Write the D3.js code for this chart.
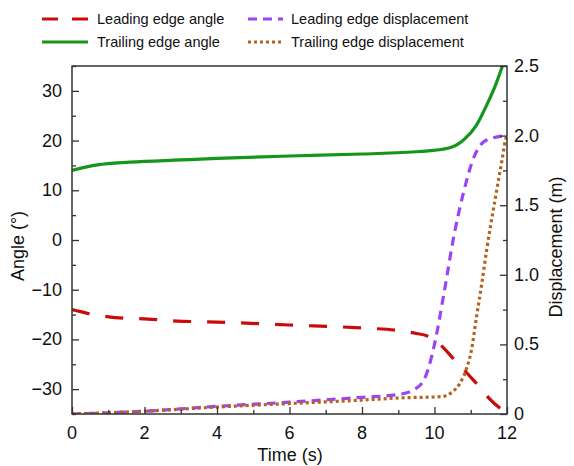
<!DOCTYPE html>
<html>
<head>
<meta charset="utf-8">
<script src="https://cdn.jsdelivr.net/npm/d3@7"></script>
<style>
  body { margin: 0; background: #fff; }
  svg text { font-family: "Liberation Sans", Arial, sans-serif; fill: #111; }
</style>
</head>
<body>
<svg id="chart" width="574" height="466"></svg>
<script>
// values
var leadAngleT = [0, 0.4, 1.2, 2.1, 2.9, 4, 6, 8, 9, 9.5, 9.8, 10.25, 10.5, 10.9, 11.2, 11.5, 11.8, 12];
var leadAngle  = [-14, -14.7, -15.6, -15.9, -16.3, -16.5, -17.1, -17.7, -18.2, -18.8, -19.3, -21.7, -23.7, -26.8, -29.2, -31.8, -33.8, -34.8];

var trailAngleT = [0, 0.7, 1.6, 3, 4, 6, 8, 9.6, 10.4, 10.8, 11.15, 11.45, 11.67, 11.87, 12];
var trailAngle  = [14, 15.1, 15.65, 16.1, 16.4, 16.9, 17.3, 17.8, 18.5, 20.1, 23.0, 27.3, 30.9, 34.9, 37.6];

var leadDispT = [0, 2, 4, 6, 8, 9, 9.4, 9.7, 10, 10.25, 10.55, 10.8, 11.05, 11.45, 12];
var leadDisp  = [0, 0.02, 0.055, 0.085, 0.12, 0.14, 0.17, 0.24, 0.5, 0.85, 1.3, 1.59, 1.82, 1.97, 2.0];

var trailDispT = [0, 2, 4, 6, 8, 9, 10.2, 10.5, 10.7, 10.9, 11.02, 11.16, 11.3, 11.44, 11.67, 11.86, 11.96, 12];
var trailDisp  = [0, 0.02, 0.05, 0.075, 0.1, 0.115, 0.125, 0.16, 0.22, 0.34, 0.46, 0.7, 0.93, 1.18, 1.54, 1.82, 1.97, 2.0];

var xTicks = [0, 2, 4, 6, 8, 10, 12];
var angleTicks = [-30, -20, -10, 0, 10, 20, 30];
var dispTicks = [0, 0.5, 1.0, 1.5, 2.0, 2.5];

var series = [
  {name: "Leading edge angle", t: leadAngleT, v: leadAngle, axis: "angle", color: "#cc0a0a", dash: "18,16"},
  {name: "Trailing edge angle", t: trailAngleT, v: trailAngle, axis: "angle", color: "#14961a", dash: null},
  {name: "Leading edge displacement", t: leadDispT, v: leadDisp, axis: "disp", color: "#9b45f5", dash: "9,6"},
  {name: "Trailing edge displacement", t: trailDispT, v: trailDisp, axis: "disp", color: "#b5621f", dash: "3,3"}
];

var m = {left: 72, right: 507, top: 66, bottom: 414};
var svg = d3.select("#chart");

var x = d3.scaleLinear().domain([0, 12]).range([m.left, m.right]);
var yA = d3.scaleLinear().domain([-35, 35]).range([m.bottom, m.top]);
var yD = d3.scaleLinear().domain([0, 2.5]).range([m.bottom, m.top]);

svg.append("clipPath").attr("id", "plotclip")
  .append("rect")
  .attr("x", m.left).attr("y", m.top)
  .attr("width", m.right - m.left).attr("height", m.bottom - m.top);

// lines
var plot = svg.append("g").attr("clip-path", "url(#plotclip)");
series.forEach(function(s) {
  var ys = s.axis == "angle" ? yA : yD;
  var pts = s.t.map(function(t, i) { return [t, s.v[i]]; });
  var line = d3.line()
    .x(function(d) { return x(d[0]); })
    .y(function(d) { return ys(d[1]); })
    .curve(d3.curveMonotoneX);
  plot.append("path")
    .attr("d", line(pts))
    .attr("fill", "none")
    .attr("stroke", s.color)
    .attr("stroke-width", 3.2)
    .attr("stroke-dasharray", s.dash);
});

// axes (ticks point inward)
var fmtAngle = function(d) { return d < 0 ? "\u2212" + Math.abs(d) : "" + d; };
var fmtDisp = function(d) { return d === 0 ? "0" : d3.format(".1f")(d); };

var axStroke = "#333";

var bottom = svg.append("g").attr("transform", "translate(0," + m.bottom + ")")
  .call(d3.axisBottom(x).tickValues(d3.range(0, 13, 1)).tickSize(-7).tickPadding(0).tickFormat(""));
bottom.selectAll(".tick line").attr("y2", function(d) { return d % 2 ? -4 : -7; });

var left = svg.append("g").attr("transform", "translate(" + m.left + ",0)")
  .call(d3.axisLeft(yA).tickValues(d3.range(-35, 36, 5)).tickSize(-7).tickFormat(""));
left.selectAll(".tick line").attr("x2", function(d) { return d % 10 ? 4 : 7; });

var right = svg.append("g").attr("transform", "translate(" + m.right + ",0)")
  .call(d3.axisRight(yD).tickValues(d3.range(0, 2.51, 0.25)).tickSize(-7).tickFormat(""));
right.selectAll(".tick line").attr("x2", function(d) { return Math.abs(d * 2 - Math.round(d * 2)) > 0.01 ? -4 : -7; });

svg.selectAll(".domain").remove();
svg.selectAll(".tick line").attr("stroke", axStroke).attr("stroke-width", 1.3);

// frame
svg.append("rect")
  .attr("x", m.left).attr("y", m.top)
  .attr("width", m.right - m.left).attr("height", m.bottom - m.top)
  .attr("fill", "none").attr("stroke", axStroke).attr("stroke-width", 1.5);

// tick labels
svg.append("g").selectAll("text").data(xTicks).enter().append("text")
  .attr("x", function(d) { return x(d); }).attr("y", 439)
  .attr("text-anchor", "middle").attr("font-size", 18)
  .text(function(d) { return d; });

svg.append("g").selectAll("text").data(angleTicks).enter().append("text")
  .attr("x", 62).attr("y", function(d) { return yA(d) + 6; })
  .attr("text-anchor", "end").attr("font-size", 18)
  .text(fmtAngle);

svg.append("g").selectAll("text").data(dispTicks).enter().append("text")
  .attr("x", 514).attr("y", function(d) { return yD(d) + 6; })
  .attr("text-anchor", "start").attr("font-size", 18)
  .text(fmtDisp);

// axis titles
svg.append("text").attr("x", 290).attr("y", 461)
  .attr("text-anchor", "middle").attr("font-size", 18).text("Time (s)");
svg.append("text").attr("transform", "translate(24,246) rotate(-90)")
  .attr("text-anchor", "middle").attr("font-size", 18).text("Angle (\u00b0)");
svg.append("text").attr("transform", "translate(562,247) rotate(-90)")
  .attr("text-anchor", "middle").attr("font-size", 18).text("Displacement (m)");

// legend
var legendPos = [
  {x1: 42, x2: 88, tx: 97, y: 19},
  {x1: 42, x2: 88, tx: 97, y: 42},
  {x1: 248, x2: 283, tx: 291, y: 19},
  {x1: 248, x2: 283, tx: 291, y: 42}
];
var lg = svg.append("g");
series.forEach(function(s, i) {
  var p = legendPos[i];
  lg.append("line")
    .attr("x1", p.x1).attr("x2", p.x2).attr("y1", p.y).attr("y2", p.y)
    .attr("stroke", s.color).attr("stroke-width", 3.2)
    .attr("stroke-dasharray", s.dash == "18,16" ? "16,14" : s.dash);
  lg.append("text")
    .attr("x", p.tx).attr("y", p.y + 5)
    .attr("font-size", 14.5)
    .text(s.name);
});
</script>
</body>
</html>
